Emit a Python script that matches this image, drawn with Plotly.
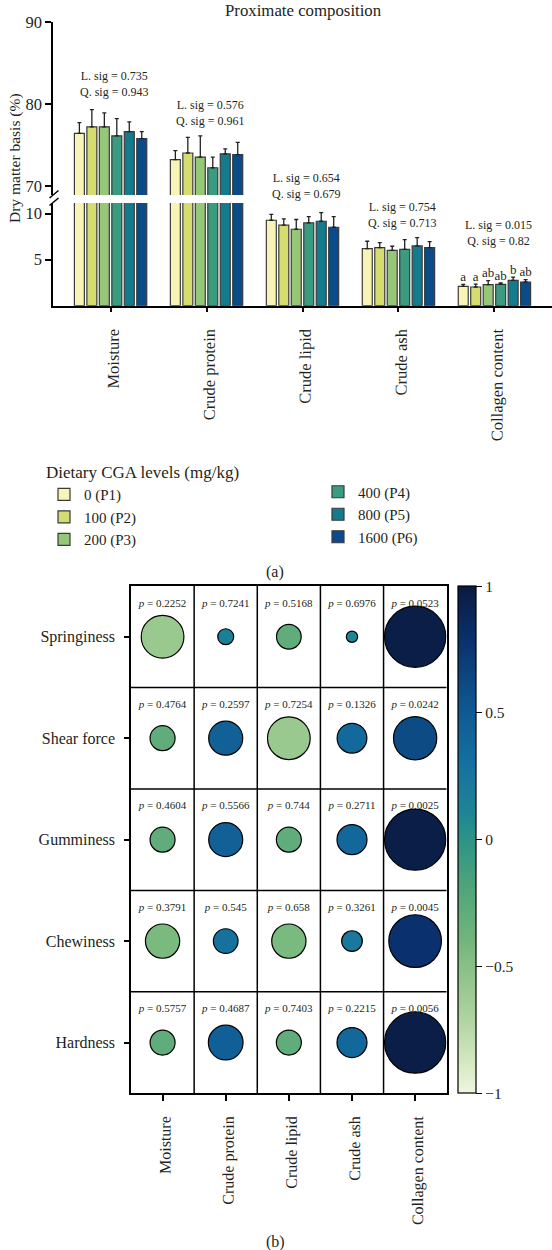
import plotly.graph_objects as go

W, H = 552, 1250
FONT = "Liberation Serif"
TXT = "#231f20"

# ---------------- data: proximate composition ----------------
categories = ["Moisture", "Crude protein", "Crude lipid", "Crude ash", "Collagen content"]
levels = ["0 (P1)", "100 (P2)", "200 (P3)", "400 (P4)", "800 (P5)", "1600 (P6)"]
level_colors = ["#f7f5b5", "#d5dd70", "#95c777", "#3b9b80", "#147b8d", "#0a4b8c"]

p1_mean = [76.4, 73.2, 9.27, 6.20, 2.10]
p2_mean = [77.2, 74.0, 8.73, 6.30, 2.03]
p3_mean = [77.2, 73.5, 8.29, 6.01, 2.28]
p4_mean = [76.1, 72.2, 8.98, 6.12, 2.32]
p5_mean = [76.6, 73.9, 9.16, 6.48, 2.75]
p6_mean = [75.75, 73.8, 8.51, 6.30, 2.57]

p1_err = [1.3, 1.1, 0.63, 0.79, 0.22]
p2_err = [2.1, 1.9, 0.68, 0.55, 0.32]
p3_err = [1.7, 2.6, 1.06, 0.44, 0.44]
p4_err = [2.1, 1.3, 0.69, 1.05, 0.14]
p5_err = [1.2, 0.6, 0.94, 0.91, 0.36]
p6_err = [0.85, 1.5, 1.16, 0.66, 0.26]

sig_linear = ["0.735", "0.576", "0.654", "0.754", "0.015"]
sig_quadratic = ["0.943", "0.961", "0.679", "0.713", "0.82"]
collagen_letters = ["a", "a", "ab", "ab", "b", "ab"]

# ---------------- data: correlation ----------------
texture = ["Springiness", "Shear force", "Gumminess", "Chewiness", "Hardness"]
r_springiness = [-0.594, 0.160, -0.286, 0.101, 0.961]
r_shear_force = [-0.291, 0.439, -0.594, 0.367, 0.605]
r_gumminess = [-0.291, 0.439, -0.291, 0.371, 0.961]
r_chewiness = [-0.443, 0.286, -0.443, 0.226, 0.786]
r_hardness = [-0.291, 0.451, -0.291, 0.371, 0.961]
p_springiness = ["0.2252", "0.7241", "0.5168", "0.6976", "0.0523"]
p_shear_force = ["0.4764", "0.2597", "0.7254", "0.1326", "0.0242"]
p_gumminess = ["0.4604", "0.5566", "0.744", "0.2711", "0.0025"]
p_chewiness = ["0.3791", "0.545", "0.658", "0.3261", "0.0045"]
p_hardness = ["0.5757", "0.4687", "0.7403", "0.2215", "0.0056"]

means = [p1_mean, p2_mean, p3_mean, p4_mean, p5_mean, p6_mean]
errs = [p1_err, p2_err, p3_err, p4_err, p5_err, p6_err]
r_rows = [r_springiness, r_shear_force, r_gumminess, r_chewiness, r_hardness]
p_rows = [p_springiness, p_shear_force, p_gumminess, p_chewiness, p_hardness]

colorscale = [
    [0.0, "#eef6e0"], [0.05, "#d8ebc6"], [0.15, "#aed39e"], [0.25, "#88c084"],
    [0.3, "#72b57c"], [0.4, "#52a57a"], [0.5, "#2d9386"], [0.55, "#1f8595"],
    [0.65, "#1570a0"], [0.75, "#0f5a93"], [0.9, "#0a2f6b"], [1.0, "#0b1a3f"],
]


def px_y(p):
    return 1 - p / H


def px_x(p):
    return p / W


fig = go.Figure()

# bars: lower (broken) segment and upper segment
for i, lev in enumerate(levels):
    for xa, ya, show in (("x", "y", True), ("x2", "y2", False)):
        fig.add_trace(go.Bar(
            x=categories, y=means[i], name=lev,
            marker=dict(color=level_colors[i], line=dict(color="#3a3a3a", width=1.2)),
            error_y=dict(type="data", array=errs[i], arrayminus=[0] * len(errs[i]),
                         symmetric=False, color="#222222", thickness=1.3, width=2),
            xaxis=xa, yaxis=ya, showlegend=show,
            legend="legend" if i < 3 else "legend2",
        ))

# significance letters on collagen
for i in range(len(levels)):
    fig.add_trace(go.Scatter(
        x=[categories[4]], y=[means[i][4] + errs[i][4]], text=[collagen_letters[i]],
        mode="text", textposition="top center",
        textfont=dict(family=FONT, size=13, color=TXT),
        xaxis="x", yaxis="y", showlegend=False, cliponaxis=False, hoverinfo="skip",
    ))

# correlation bubbles (circle area grows with |r|)
bx, by, br, bsize = [], [], [], []
tx, ty, tt = [], [], []
n_rows = len(texture)
for ri, row in enumerate(r_rows):
    for ci, rv in enumerate(row):
        bx.append(ci)
        by.append(n_rows - 1 - ri)
        br.append(rv)
        bsize.append(abs(rv) ** 0.75)
        tx.append(ci)
        ty.append(n_rows - 1 - ri + 0.325)
        tt.append("<i>p</i> = " + p_rows[ri][ci])

fig.add_trace(go.Scatter(
    x=bx, y=by, mode="markers", xaxis="x3", yaxis="y3", showlegend=False,
    offsetgroup="hm", hoverinfo="skip",
    marker=dict(size=bsize, sizemode="diameter", sizeref=1 / 63.1, color=br, opacity=1,
                cmin=-1, cmax=1, colorscale=colorscale,
                line=dict(color="black", width=1.2),
                colorbar=dict(
                    x=px_x(458.3), xanchor="left", y=px_y(839.7), yanchor="middle",
                    len=507.3 / H, lenmode="fraction", thickness=18.4,
                    xpad=0, ypad=0, outlinewidth=1.2, outlinecolor="black",
                    ticks="outside", ticklen=6, tickwidth=1.2, tickcolor="black",
                    tickvals=[-1, -0.5, 0, 0.5, 1], ticktext=["\u22121", "\u22120.5", "0", "0.5", "1"],
                    tickfont=dict(family=FONT, size=15.5, color=TXT),
                )),
))
fig.add_trace(go.Scatter(
    x=tx, y=ty, text=tt, mode="text", xaxis="x3", yaxis="y3", showlegend=False,
    offsetgroup="hm", textfont=dict(family=FONT, size=11, color=TXT), hoverinfo="skip",
))

ax_common = dict(showline=True, linecolor="black", linewidth=1.5, ticks="outside",
                 tickcolor="black", tickwidth=1.5, showgrid=False, zeroline=False,
                 tickfont=dict(family=FONT, size=16.5, color=TXT))

shapes = []
# heatmap grid lines
for k in range(4):
    shapes.append(dict(type="line", xref="x3", yref="y3", x0=k + 0.5, x1=k + 0.5, y0=-0.5, y1=4.5,
                       line=dict(color="black", width=1.5)))
    shapes.append(dict(type="line", xref="x3", yref="y3", y0=k + 0.5, y1=k + 0.5, x0=-0.5, x1=4.5,
                       line=dict(color="black", width=1.5)))
# axis break marks
for yy in (198.0, 205.5):
    shapes.append(dict(type="line", xref="paper", yref="paper",
                       x0=px_x(49.5), x1=px_x(58.5), y0=px_y(yy), y1=px_y(yy - 7.5),
                       line=dict(color="black", width=1.5)))


def ann(text, x, y, size, **kw):
    d = dict(text=text, x=x, y=y, xref="paper", yref="paper", showarrow=False,
             xanchor="center", yanchor="middle", font=dict(family=FONT, size=size, color=TXT))
    d.update(kw)
    return d


annotations = [
    ann("Proximate composition", px_x(303.5), px_y(10), 16.8, borderpad=0),
    ann("Dry matter basis (%)", px_x(15), px_y(158), 15.5, textangle=-90),
    ann("(a)", px_x(275), px_y(572), 16),
    ann("(b)", px_x(275), px_y(1241.5), 16),
]
sig_y_px = [84.2, 112.8, 186.3, 215.3, 233.0]
for k in range(len(categories)):
    annotations.append(ann(
        f"L. sig = {sig_linear[k]}<br>Q. sig = {sig_quadratic[k]}",
        k + 0.04, px_y(sig_y_px[k]), 12, xref="x", align="center",
    ))

fig.update_layout(
    width=W, height=H, margin=dict(l=0, r=0, t=0, b=0, autoexpand=False),
    paper_bgcolor="white", plot_bgcolor="white",
    barmode="group", bargap=0.22, bargroupgap=0.2, scattermode="group",
    font=dict(family=FONT, color=TXT),
    xaxis=dict(ax_common, domain=[px_x(53), 1.0], range=[-0.6, 4.6], anchor="y",
               tickangle=-89.9, ticklen=5, ticklabelstandoff=5,
               categoryorder="array", categoryarray=categories),
    yaxis=dict(ax_common, domain=[px_y(305.7), px_y(203)], range=[0, 11.14], anchor="x",
               tickvals=[5, 10], ticklen=6),
    xaxis2=dict(domain=[px_x(53), 1.0], matches="x", anchor="y2", visible=False),
    yaxis2=dict(ax_common, domain=[px_y(195), px_y(22)], range=[68.87, 90], anchor="x2",
                tickvals=[70, 80, 90], ticklen=6),
    xaxis3=dict(ax_common, domain=[px_x(131), px_x(446.7)], range=[-0.5, 4.5], anchor="y3",
                mirror=True, tickvals=list(range(5)), ticktext=categories, tickangle=-89.9,
                ticklen=6, ticklabelstandoff=4, tickfont=dict(family=FONT, size=16, color=TXT)),
    yaxis3=dict(ax_common, domain=[px_y(1093.3), px_y(586)], range=[-0.5, 4.5], anchor="x3",
                mirror=True, tickvals=list(range(5)), ticktext=texture[::-1],
                ticklen=5, ticklabelstandoff=6, tickfont=dict(family=FONT, size=16, color=TXT)),
    legend=dict(x=px_x(44), y=px_y(456), xanchor="left", yanchor="top",
                title=dict(text="Dietary CGA levels (mg/kg)", font=dict(family=FONT, size=17, color=TXT)),
                font=dict(family=FONT, size=15, color=TXT), itemwidth=30,
                bgcolor="rgba(0,0,0,0)", tracegroupgap=0),
    legend2=dict(x=px_x(318), y=px_y(475.5), xanchor="left", yanchor="top",
                 font=dict(family=FONT, size=15, color=TXT), itemwidth=30,
                 bgcolor="rgba(0,0,0,0)", tracegroupgap=0),
    shapes=shapes, annotations=annotations,
)

fig.write_html("out.html", config={"displayModeBar": False},
               post_script="document.body.style.margin='0px';")
